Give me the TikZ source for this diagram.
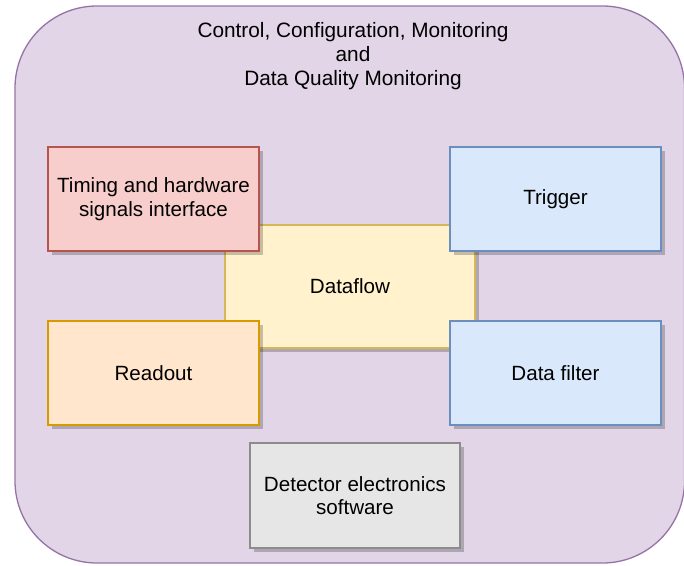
\documentclass[tikz,border=0pt]{standalone}
\usepackage{fontspec}
\setmainfont{Liberation Sans}
\usetikzlibrary{shadows}
\definecolor{purpF}{HTML}{E1D5E7}
\definecolor{purpD}{HTML}{9673A6}
\definecolor{redF}{HTML}{F8CECC}
\definecolor{redD}{HTML}{B85450}
\definecolor{yelF}{HTML}{FFF2CC}
\definecolor{yelD}{HTML}{D6B656}
\definecolor{orF}{HTML}{FFE6CC}
\definecolor{orD}{HTML}{D79B00}
\definecolor{bluF}{HTML}{DAE8FC}
\definecolor{bluD}{HTML}{6C8EBF}
\definecolor{grF}{HTML}{E6E6E6}
\definecolor{grD}{HTML}{8C8C8C}
\tikzset{
  box/.style={draw, line width=1.3pt, inner sep=0pt, align=center,
    font=\fontsize{20.6}{23.5}\selectfont,
    drop shadow={shadow xshift=3.5pt, shadow yshift=-3.5pt, fill=black, opacity=0.22}},
}
\begin{document}
\begin{tikzpicture}[x=1pt,y=-1pt]
\useasboundingbox (0,0) rectangle (684,565);
\draw[fill=purpF, draw=purpD, line width=1.3pt, rounded corners=82pt] (15,6) rectangle (684.5,563);
\node[font=\fontsize{20.8}{24}\selectfont, align=center] (title) at (353,56)
  {Control, Configuration, Monitoring\\and\\Data Quality Monitoring};
\node[box, fill=yelF, draw=yelD, minimum width=250pt, minimum height=123pt] (df) at (350,286.5) {Dataflow};
\node[box, fill=redF, draw=redD, minimum width=211pt, minimum height=104pt] (tim) at (153.5,199) {Timing and hardware\\signals interface};
\node[box, fill=bluF, draw=bluD, minimum width=211pt, minimum height=104pt] (trig) at (555.5,199) {Trigger};
\node[box, fill=orF, draw=orD, minimum width=211pt, minimum height=104pt] (ro) at (153.5,373) {Readout};
\node[box, fill=bluF, draw=bluD, minimum width=211pt, minimum height=104pt] (filt) at (555.5,373) {Data filter};
\node[box, fill=grF, draw=grD, minimum width=210pt, minimum height=105pt] (det) at (355,495.5) {Detector electronics\\software};
\end{tikzpicture}
\end{document}
